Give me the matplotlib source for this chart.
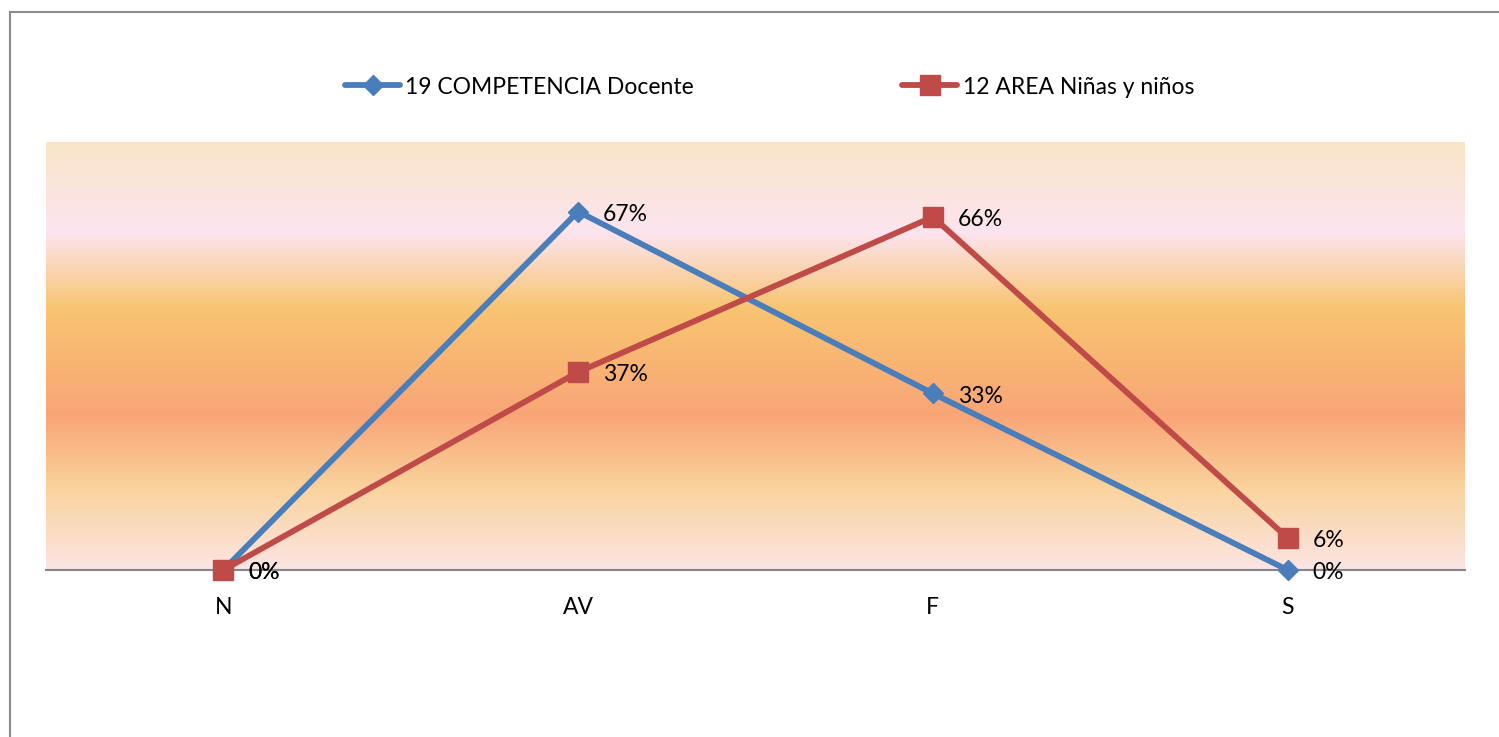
import matplotlib
matplotlib.use("Agg")
import matplotlib.pyplot as plt
import numpy as np
from matplotlib.colors import LinearSegmentedColormap
from matplotlib.lines import Line2D

categories = ["N", "AV", "F", "S"]
docente = [0.00, 0.67, 0.33, 0.00]
ninos = [0.00, 0.37, 0.66, 0.06]
series_names = ["19 COMPETENCIA Docente", "12 AREA Niñas y niños"]
label_docente = ["0%", "67%", "33%", "0%"]
label_ninos = ["0%", "37%", "66%", "6%"]

plt.rcParams['font.family'] = ['Lato', 'DejaVu Sans']
FS = 16.5

W, H = 1499, 737
fig = plt.figure(figsize=(W / 100, H / 100), dpi=100)
fig.patch.set_facecolor("white")

ax = fig.add_axes([46 / W, (H - 570) / H, (1465 - 46) / W, (570 - 142) / H])

# gradient background (top -> bottom)
stops = [(0.0, "#F9E6C8"), (0.21, "#FDE4EF"), (0.39, "#F8C470"),
         (0.64, "#F9A577"), (0.81, "#FAD39C"), (1.0, "#FCE4E4")]
cmap = LinearSegmentedColormap.from_list("bg", stops)
grad = np.linspace(0, 1, 512).reshape(-1, 1)
ax.imshow(grad, cmap=cmap, aspect="auto", extent=[0, 1, 0, 1],
          transform=ax.transAxes, zorder=0, interpolation="bicubic")

x = np.arange(len(categories))
blue = "#4A7EBB"
red = "#BE4B48"
ax.plot(x, docente, color=blue, lw=4.2, marker="D", ms=10.5,
        solid_capstyle="round", zorder=3, clip_on=False,
        label=series_names[0])
ax.plot(x, ninos, color=red, lw=4.2, marker="s", ms=14,
        solid_capstyle="round", zorder=4, clip_on=False,
        label=series_names[1])

for xi, v, t in zip(x, docente, label_docente):
    ax.annotate(t, (xi, v), xytext=(18, -2), textcoords="offset points",
                va="center", ha="left", fontsize=FS, color="black", zorder=6)
for xi, v, t in zip(x, ninos, label_ninos):
    ax.annotate(t, (xi, v), xytext=(18, -2), textcoords="offset points",
                va="center", ha="left", fontsize=FS, color="black", zorder=6)

ax.set_xlim(-0.5, 3.5)
ax.set_ylim(0, 0.80)
ax.set_xticks(x)
ax.set_xticklabels(categories, fontsize=FS)
ax.set_yticks([])
ax.tick_params(axis="x", length=0, pad=19.5)
for s in ["top", "right", "left"]:
    ax.spines[s].set_visible(False)
ax.spines["bottom"].set_color("#868686")
ax.spines["bottom"].set_linewidth(1.5)
ax.spines["bottom"].set_zorder(2)

leg = fig.legend(loc="center", bbox_to_anchor=(769.5 / W, (H - 87) / H), ncol=2,
                 frameon=False, fontsize=FS, handlelength=2.4,
                 handletextpad=0.22, columnspacing=9.1)

# outer border (left and top visible)
fig.add_artist(Line2D([9.5 / W, 9.5 / W], [0, (H - 12) / H], color="#8C8C8C",
                      lw=1.5, transform=fig.transFigure))
fig.add_artist(Line2D([9.5 / W, 1], [(H - 12) / H, (H - 12) / H], color="#8C8C8C",
                      lw=1.5, transform=fig.transFigure))

fig.savefig("out.png", dpi=100, facecolor="white")
